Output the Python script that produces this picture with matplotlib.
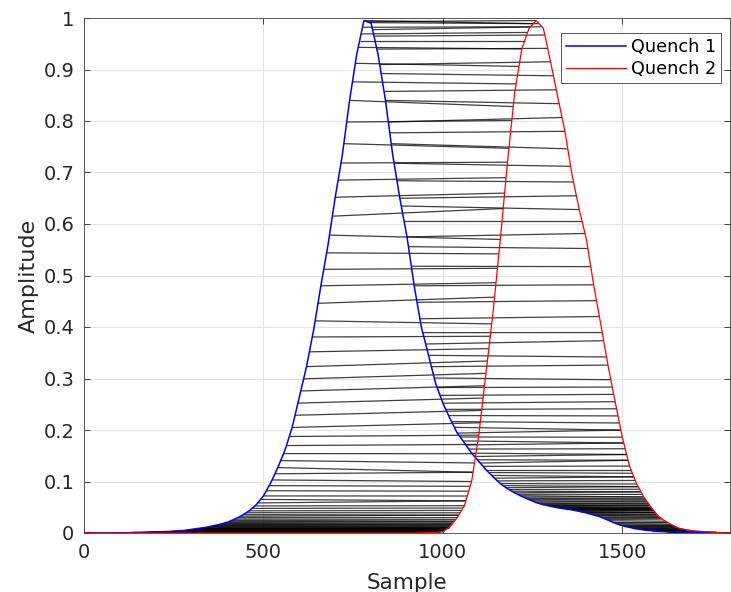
import numpy as np
import matplotlib.pyplot as plt
from matplotlib.collections import LineCollection

# samples read every 20 points from the two normalised quench signals
sample = np.arange(0, 1801, 20)

quench1 = [0, 0, 0, 0, 0, 0, 0.0005, 0.001, 0.001, 0.0015,
           0.002, 0.0025, 0.003, 0.004, 0.005, 0.007, 0.009, 0.011, 0.014, 0.017,
           0.021, 0.027, 0.034, 0.043, 0.055, 0.072, 0.097, 0.127, 0.161, 0.205,
           0.264, 0.323, 0.395, 0.48, 0.56, 0.652, 0.735, 0.84, 0.93, 0.995,
           0.99, 0.927, 0.84, 0.735, 0.65, 0.575, 0.48, 0.40, 0.345, 0.29,
           0.252, 0.222, 0.194, 0.175, 0.155, 0.139, 0.123, 0.109, 0.096, 0.086,
           0.078, 0.071, 0.065, 0.059, 0.055, 0.052, 0.049, 0.047, 0.045, 0.042,
           0.039, 0.035, 0.031, 0.025, 0.019, 0.014, 0.011, 0.008, 0.006, 0.005,
           0.004, 0.003, 0.002, 0.002, 0.001, 0.001, 0.001, 0.0005, 0, 0, 0]

quench2 = [0.0] * 47 + [
    0.0005, 0.0008, 0.001, 0.003, 0.012, 0.03, 0.053, 0.10, 0.19, 0.31,
    0.43, 0.57, 0.72, 0.855, 0.94, 0.98, 0.995, 0.98, 0.915, 0.847,
    0.78, 0.695, 0.628, 0.57, 0.482, 0.405, 0.326, 0.255, 0.186, 0.13,
    0.095, 0.07, 0.05, 0.033, 0.023, 0.015, 0.009, 0.006, 0.004, 0.003,
    0.002, 0.001, 0.0005, 0]

labels = ['Quench 1', 'Quench 2']


def dtw_path(a, b):
    # plain dynamic time warping, abs distance
    n, m = len(a), len(b)
    cost = np.abs(a[:, None] - b[None, :])
    D = np.full((n + 1, m + 1), np.inf)
    D[0, 0] = 0
    for i in range(1, n + 1):
        best = np.minimum(D[i - 1, :-1], D[i - 1, 1:]) + cost[i - 1]
        row = D[i]
        for j in range(1, m + 1):
            row[j] = min(best[j - 1], row[j - 1] + cost[i - 1, j - 1])
    i, j = n, m
    path = [(i - 1, j - 1)]
    while i > 1 or j > 1:
        opts = [D[i - 1, j - 1], D[i - 1, j], D[i, j - 1]]
        k = int(np.argmin(opts))
        if k == 0:
            i, j = i - 1, j - 1
        elif k == 1:
            i -= 1
        else:
            j -= 1
        path.append((i - 1, j - 1))
    return np.array(path[::-1])


# align on a finer grid so the match lines sit on the curves
grid = np.arange(0, 1801, 4)
q1 = np.interp(grid, sample, quench1)
q2 = np.interp(grid, sample, quench2)
path = dtw_path(q1, q2)
step = max(1, len(path) // 330)
path = path[::step]

segs = [[(grid[i], q1[i]), (grid[j], q2[j])] for i, j in path]

fig = plt.figure(figsize=(7.31, 5.92), dpi=100)
ax = fig.add_axes([84 / 731, 1 - 533 / 592, 646 / 731, 515 / 592])

ax.add_collection(LineCollection(segs, colors='k', linewidths=0.9, alpha=0.75, zorder=2))
ax.plot(sample, quench1, color=(0, 0, 1), lw=1.1, label=labels[0], zorder=3)
ax.plot(sample, quench2, color=(1, 0, 0), lw=0.9, label=labels[1], zorder=3)

ax.set_xlim(0, 1800)
ax.set_ylim(0, 1)
ax.set_xticks([0, 500, 1000, 1500])
ax.set_yticks(np.arange(0, 1.01, 0.1))
ax.set_yticklabels(['0', '0.1', '0.2', '0.3', '0.4', '0.5', '0.6', '0.7', '0.8', '0.9', '1'])
ax.grid(True, color='#e3e3e3', lw=0.8)
ax.set_axisbelow(True)
ax.tick_params(direction='in', top=True, right=True, labelsize=14, pad=7,
               colors='#262626', length=4, width=0.6)
for s in ax.spines.values():
    s.set_color('#404040')
    s.set_linewidth(0.6)

ax.set_xlabel('Sample', fontsize=15.5, color='#262626', labelpad=8)
ax.set_ylabel('Amplitude', fontsize=16, color='#262626', labelpad=3)

leg = ax.legend(loc='upper right', fontsize=12.7, handlelength=3.4, handletextpad=0.25,
                borderpad=0.3, labelspacing=0.2, fancybox=False, framealpha=1,
                edgecolor='#555555', borderaxespad=0, bbox_to_anchor=(0.986, 0.971))
leg.get_frame().set_linewidth(0.7)

fig.savefig('out.png', dpi=100)
